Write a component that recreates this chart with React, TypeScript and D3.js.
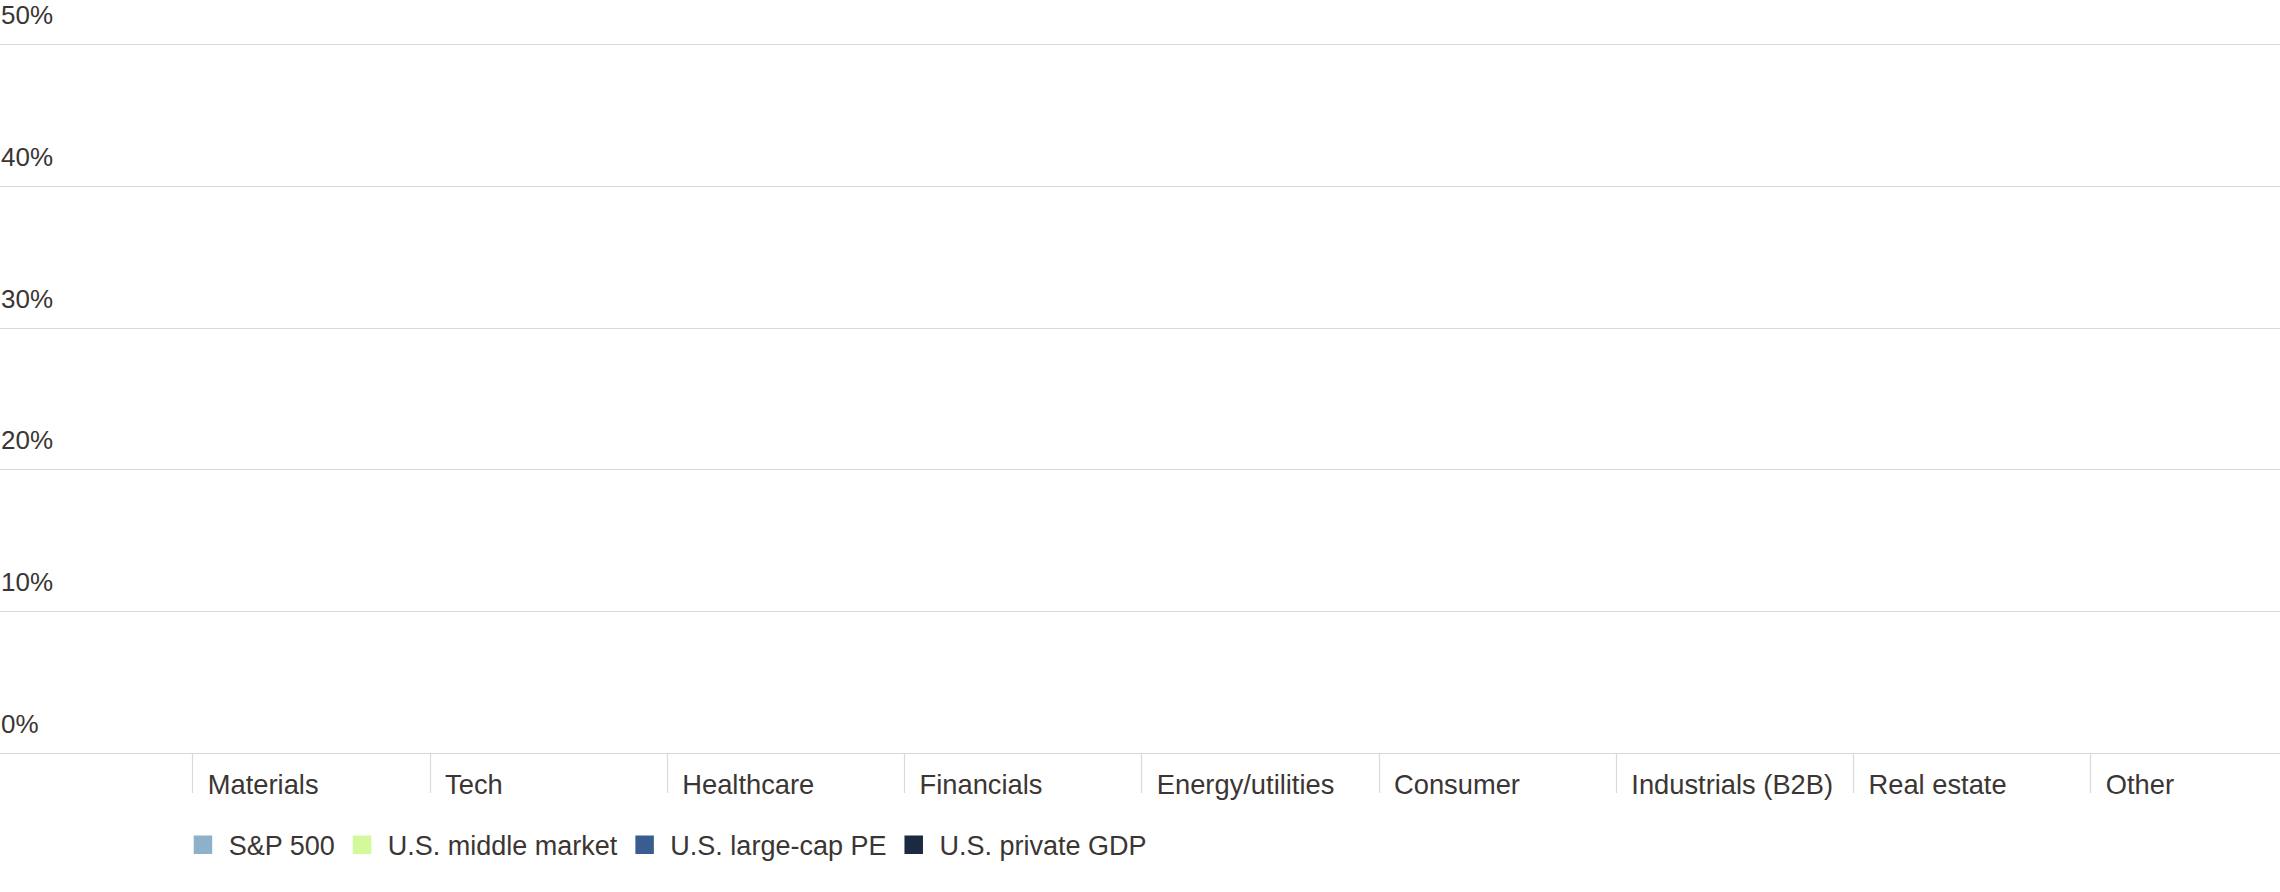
import React, { useEffect, useRef } from "react";
import * as d3 from "d3";

const categories = [
  "Materials",
  "Tech",
  "Healthcare",
  "Financials",
  "Energy/utilities",
  "Consumer",
  "Industrials (B2B)",
  "Real estate",
  "Other",
];

const seriesNames = ["S&P 500", "U.S. middle market", "U.S. large-cap PE", "U.S. private GDP"];
const seriesColors = ["#8eb0c8", "#d4f99a", "#3a5d91", "#1b2a42"];

// Bars are not visible in the reference (all at zero height)
const sp500 = [0, 0, 0, 0, 0, 0, 0, 0, 0];
const middleMarket = [0, 0, 0, 0, 0, 0, 0, 0, 0];
const largeCapPE = [0, 0, 0, 0, 0, 0, 0, 0, 0];
const privateGDP = [0, 0, 0, 0, 0, 0, 0, 0, 0];

const yTicks = [0, 10, 20, 30, 40, 50];

const W = 2280;
const H = 892;
const FONT = "'Liberation Sans', Arial, sans-serif";
const TEXT = "#3b3633";

export default function App() {
  const ref = useRef<SVGSVGElement>(null);

  useEffect(() => {
    const svg = d3.select(ref.current);
    svg.selectAll("*").remove();

    const y = d3.scaleLinear().domain([0, 50]).range([753, 44]);
    const bandStep = 237.25;
    const x = d3
      .scaleBand<string>()
      .domain(categories)
      .range([192.3, 192.3 + bandStep * categories.length])
      .paddingInner(0)
      .paddingOuter(0);

    // gridlines + tick labels
    const g = svg.append("g");
    yTicks.forEach((t) => {
      g.append("line")
        .attr("x1", 0)
        .attr("x2", W)
        .attr("y1", Math.round(y(t)) + 0.5)
        .attr("y2", Math.round(y(t)) + 0.5)
        .attr("stroke", "#d8d8d8")
        .attr("stroke-width", 1.2);
      g.append("text")
        .attr("x", 1)
        .attr("y", y(t) - 20)
        .attr("font-family", FONT)
        .attr("font-size", 26)
        .attr("fill", TEXT)
        .text(`${t}%`);
    });

    // category separators and labels
    categories.forEach((c) => {
      const x0 = x(c)!;
      g.append("line")
        .attr("x1", Math.round(x0) + 0.5)
        .attr("x2", Math.round(x0) + 0.5)
        .attr("y1", 753)
        .attr("y2", 793)
        .attr("stroke", "#dadada")
        .attr("stroke-width", 1.2);
      g.append("text")
        .attr("x", x0 + 15.5)
        .attr("y", 794)
        .attr("font-family", FONT)
        .attr("font-size", 27.3)
        .attr("fill", TEXT)
        .text(c);
    });

    // bars (zero height in reference)
    const series = [sp500, middleMarket, largeCapPE, privateGDP];
    const inner = d3
      .scaleBand<number>()
      .domain(d3.range(series.length))
      .range([0, x.bandwidth()])
      .paddingInner(0.1)
      .paddingOuter(0.3);
    series.forEach((vals, si) => {
      g.selectAll(`rect.s${si}`)
        .data(vals)
        .enter()
        .append("rect")
        .attr("x", (_d, i) => x(categories[i])! + inner(si)!)
        .attr("width", inner.bandwidth())
        .attr("y", (d) => y(d))
        .attr("height", (d) => y(0) - y(d))
        .attr("fill", seriesColors[si]);
    });

    // legend
    const lg = svg.append("g");
    let cx = 193.7;
    seriesNames.forEach((name, i) => {
      lg.append("rect")
        .attr("x", cx)
        .attr("y", 835.5)
        .attr("width", 18.5)
        .attr("height", 18.5)
        .attr("fill", seriesColors[i]);
      const t = lg
        .append("text")
        .attr("x", cx + 35)
        .attr("y", 855)
        .attr("font-family", FONT)
        .attr("font-size", 27)
        .attr("fill", TEXT)
        .text(name);
      const w = (t.node() as SVGTextElement).getComputedTextLength();
      cx = cx + 35 + w + 18;
    });
  }, []);

  return (
    <div style={{ position: "fixed", left: 0, top: 0, background: "#fff" }}>
      <svg ref={ref} width={W} height={H} style={{ display: "block" }} />
    </div>
  );
}
